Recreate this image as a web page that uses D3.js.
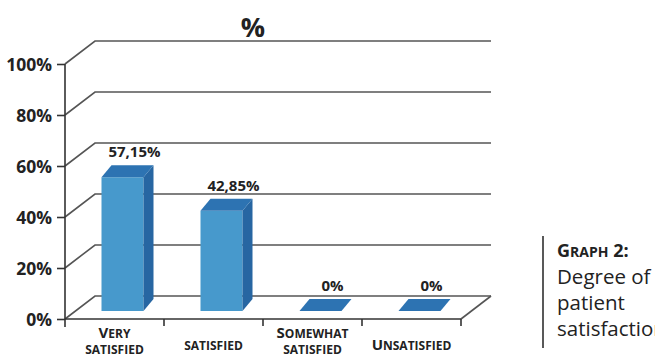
<!DOCTYPE html>
<html>
<head>
<meta charset="utf-8">
<script src="https://cdn.jsdelivr.net/npm/d3@7"></script>
<style>
  body { margin: 0; background: #fff; }
  svg { font-family: "Open Sans", sans-serif; }
</style>
</head>
<body>
<div id="chart"></div>
<script>
// data
var categories = ["Very satisfied", "satisfied", "Somewhat satisfied", "Unsatisfied"];
var labelLines = [["Very", "satisfied"], ["satisfied"], ["Somewhat", "satisfied"], ["Unsatisfied"]];
var values = [57.15, 42.85, 0, 0];
var valueLabels = ["57,15%", "42,85%", "0%", "0%"];
var yTicks = [0, 20, 40, 60, 80, 100];
var captionTitle = "Graph 2:";
var captionLines = ["Degree of", "patient", "satisfaction"];

var width = 655, height = 356;
var depthX = 30, depthY = -23;      // wall depth
var barW = 42, barDX = 10, barDY = -12;

var svg = d3.select("#chart").append("svg")
    .attr("width", width)
    .attr("height", height);

var x = d3.scaleBand()
    .domain(categories)
    .range([65, 461]);

var y = d3.scaleLinear()
    .domain([0, 100])
    .range([319, 64]);

// bars stand a little back on the floor
var barY = d3.scaleLinear()
    .domain([0, 100])
    .range([311, 77]);

// fake small caps: lower case letters become small upper case, the rest stays big
function smallCaps(textSel, str, big, small) {
  var runs = [];
  for (var k = 0; k < str.length; k++) {
    var ch = str.charAt(k);
    var isSmall = ch !== ch.toUpperCase();
    if (runs.length && runs[runs.length - 1].small === isSmall) {
      runs[runs.length - 1].txt += ch;
    } else {
      runs.push({small: isSmall, txt: ch});
    }
  }
  runs.forEach(function(r) {
    textSel.append("tspan")
      .style("font-size", (r.small ? small : big) + "px")
      .text(r.txt.toUpperCase());
  });
}

// back wall grid lines with the slanted bit
yTicks.forEach(function(t) {
  var yy = y(t);
  svg.append("path")
    .attr("d", "M" + x.range()[0] + "," + yy + "L" + (x.range()[0] + depthX) + "," + (yy + depthY) +
      "L" + (x.range()[1] + depthX) + "," + (yy + depthY))
    .attr("fill", "none")
    .attr("stroke", "#555")
    .attr("stroke-width", 1.6);
});

// floor right edge
svg.append("line")
  .attr("x1", x.range()[1]).attr("y1", y(0))
  .attr("x2", x.range()[1] + depthX).attr("y2", y(0) + depthY)
  .attr("stroke", "#555").attr("stroke-width", 1.6);

// y axis
var yAxis = d3.axisLeft(y)
    .tickValues(yTicks)
    .tickSize(8)
    .tickFormat(function(d) { return d + "%"; });

var gy = svg.append("g")
    .attr("transform", "translate(65,0)")
    .call(yAxis);
gy.select(".domain").remove();
gy.selectAll("line").attr("stroke", "#333").attr("stroke-width", 1.6);
gy.selectAll("text")
    .attr("x", -13)
    .attr("dy", "0.36em")
    .attr("fill", "#222")
    .style("font-size", "17.5px")
    .style("font-weight", "bold")
    .style("font-family", "'Open Sans', sans-serif");

svg.append("line")
  .attr("x1", 65).attr("y1", y(100))
  .attr("x2", 65).attr("y2", 327)
  .attr("stroke", "#333").attr("stroke-width", 1.6);

// x axis
svg.append("line")
  .attr("x1", x.range()[0]).attr("y1", y(0))
  .attr("x2", x.range()[1]).attr("y2", y(0))
  .attr("stroke", "#333").attr("stroke-width", 1.6);

categories.forEach(function(c) {
  var xx = x(c) + x.bandwidth();
  svg.append("line")
    .attr("x1", xx).attr("y1", y(0))
    .attr("x2", xx).attr("y2", 326)
    .attr("stroke", "#333").attr("stroke-width", 1.6);
});

labelLines.forEach(function(lines, i) {
  var cx = x(categories[i]) + x.bandwidth() / 2;
  lines.forEach(function(l, j) {
    var t = svg.append("text")
      .attr("x", cx)
      .attr("y", lines.length > 1 ? 338 + j * 16 : 350)
      .attr("text-anchor", "middle")
      .attr("fill", "#222")
      .style("font-weight", "bold");
    smallCaps(t, l, 15, 12);
  });
});

// bars
var bars = svg.selectAll(".bar")
    .data(values)
    .enter().append("g")
    .attr("class", "bar");

bars.each(function(v, i) {
  var g = d3.select(this);
  var x0 = x(categories[i]) + x.bandwidth() / 2 - 13;
  var top = barY(v), bottom = barY(0);
  if (v > 0) {
    g.append("rect")
      .attr("x", x0).attr("y", top)
      .attr("width", barW).attr("height", bottom - top)
      .attr("fill", "#4799cc");
    g.append("path")
      .attr("d", "M" + (x0 + barW) + "," + top + "L" + (x0 + barW + barDX) + "," + (top + barDY) +
        "L" + (x0 + barW + barDX) + "," + (bottom + barDY) + "L" + (x0 + barW) + "," + bottom + "Z")
      .attr("fill", "#2766a2");
  }
  g.append("path")
    .attr("d", "M" + x0 + "," + top + "L" + (x0 + barW) + "," + top +
      "L" + (x0 + barW + barDX) + "," + (top + barDY) + "L" + (x0 + barDX) + "," + (top + barDY) + "Z")
    .attr("fill", "#2d73b2");
  g.append("text")
    .attr("x", x0 + barW / 2 + barDX + 2)
    .attr("y", top + barDY - 8)
    .attr("text-anchor", "middle")
    .attr("fill", "#222")
    .style("font-size", "15px")
    .style("font-weight", "bold")
    .text(valueLabels[i]);
});

// title
svg.append("text")
  .attr("x", 253).attr("y", 37)
  .attr("text-anchor", "middle")
  .attr("fill", "#222")
  .style("font-size", "27px")
  .style("font-weight", "bold")
  .text("%");

// caption at right
svg.append("line")
  .attr("x1", 543).attr("y1", 236)
  .attr("x2", 543).attr("y2", 348)
  .attr("stroke", "#222").attr("stroke-width", 1.5);

var cap = svg.append("text")
  .attr("x", 557).attr("y", 257)
  .attr("fill", "#222")
  .style("font-weight", "bold");
smallCaps(cap, captionTitle, 18, 14);

captionLines.forEach(function(l, i) {
  svg.append("text")
    .attr("x", 557).attr("y", 284 + i * 26)
    .attr("fill", "#222")
    .style("font-size", "20.5px")
    .text(l);
});
</script>
</body>
</html>
